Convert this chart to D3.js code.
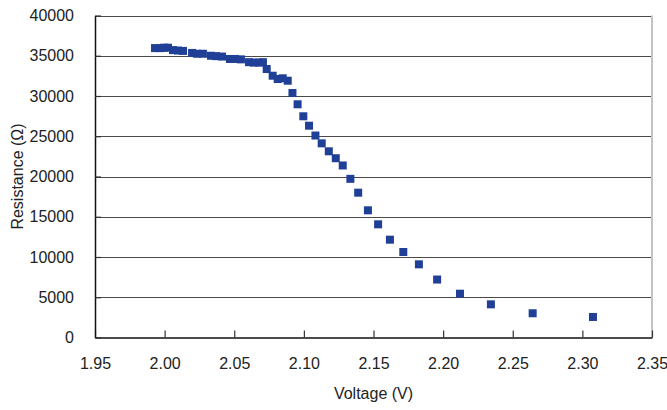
<!DOCTYPE html>
<html>
<head>
<meta charset="utf-8">
<script src="https://cdn.jsdelivr.net/npm/d3@7"></script>
<style>
  html, body { margin: 0; padding: 0; background: #fff; }
  svg { display: block; }
  text { font-family: "Liberation Sans", Arial, sans-serif; fill: #222; }
</style>
</head>
<body>
<svg id="chart" width="667" height="410"></svg>
<script>
// Data
const voltage = [
  1.9931, 1.9967, 1.9995, 2.0024,
  2.0060, 2.0096, 2.0132,
  2.0197, 2.0232, 2.0275,
  2.0333, 2.0369, 2.0412,
  2.0469, 2.0505, 2.0548,
  2.0606, 2.0642, 2.0678, 2.0706,
  2.0733, 2.0776, 2.0812, 2.0848, 2.0884,
  2.0918, 2.0955, 2.0996, 2.1037, 2.1083,
  2.1128, 2.1179, 2.1229, 2.1279, 2.1334,
  2.1390, 2.1460, 2.1533, 2.1618, 2.1714,
  2.1826, 2.1957, 2.2121, 2.2343, 2.2643, 2.3076
];
const resistance = [
  35950, 35950, 36000, 36000,
  35700, 35650, 35600,
  35350, 35250, 35250,
  35000, 34950, 34900,
  34600, 34600, 34550,
  34200, 34150, 34150, 34200,
  33350, 32520, 32110, 32200, 31900,
  30370, 28970, 27480, 26310, 25090,
  24120, 23130, 22270, 21370, 19710,
  17990, 15800, 14060, 12150, 10620,
  9090, 7200, 5440, 4120, 3010, 2550
];
const xTicks = [1.95, 2.00, 2.05, 2.10, 2.15, 2.20, 2.25, 2.30, 2.35];
const yTicks = [0, 5000, 10000, 15000, 20000, 25000, 30000, 35000, 40000];
const xTitle = "Voltage (V)";
const yTitle = "Resistance (\u03A9)";

const svg = d3.select("#chart");
const mLeft = 95, mRight = 652, mTop = 15.5, mBottom = 337.5;

const x = d3.scaleLinear().domain([1.95, 2.35]).range([mLeft, mRight]);
const y = d3.scaleLinear().domain([0, 40000]).range([mBottom, mTop]);

// horizontal gridlines
svg.append("g").selectAll("line")
  .data(yTicks.filter(d => d > 0))
  .join("line")
  .attr("x1", mLeft).attr("x2", mRight)
  .attr("y1", d => Math.round(y(d)) + 0.5).attr("y2", d => Math.round(y(d)) + 0.5)
  .attr("stroke", "#4a4a4a").attr("stroke-width", 1.2);

// right border
svg.append("line")
  .attr("x1", mRight).attr("x2", mRight)
  .attr("y1", y(40000)).attr("y2", mBottom)
  .attr("stroke", "#c4c4c4").attr("stroke-width", 2);

// x axis
const xAxis = d3.axisBottom(x).tickValues(xTicks).tickSizeInner(-7).tickSizeOuter(0)
  .tickFormat(d3.format(".2f")).tickPadding(20);
const gx = svg.append("g").attr("transform", `translate(0,${mBottom})`).call(xAxis);
gx.select(".domain").attr("stroke", "#111").attr("stroke-width", 1.5);
gx.selectAll(".tick line").attr("stroke", "#333").attr("stroke-width", 1.2);
gx.selectAll(".tick text").attr("font-size", 16).attr("fill", "#222")
  .attr("font-family", "Liberation Sans, Arial, sans-serif");

// y axis
const yAxis = d3.axisLeft(y).tickValues(yTicks).tickSizeInner(-6).tickSizeOuter(0)
  .tickFormat(d3.format("d")).tickPadding(21);
const gy = svg.append("g").attr("transform", `translate(${mLeft},0)`).call(yAxis);
gy.select(".domain").attr("stroke", "#111").attr("stroke-width", 1.5);
gy.selectAll(".tick line").attr("stroke", "#333").attr("stroke-width", 1.2);
gy.selectAll(".tick text").attr("font-size", 16).attr("fill", "#222")
  .attr("font-family", "Liberation Sans, Arial, sans-serif");

// titles
svg.append("text")
  .attr("x", (mLeft + mRight) / 2).attr("y", 399)
  .attr("text-anchor", "middle").attr("font-size", 16)
  .text(xTitle);
svg.append("text")
  .attr("transform", `translate(23,${(mTop + mBottom) / 2}) rotate(-90)`)
  .attr("text-anchor", "middle").attr("font-size", 16)
  .text(yTitle);

// markers
const pts = voltage.map((v, i) => ({v, r: resistance[i]}));
const s = 8;
svg.append("g").selectAll("rect")
  .data(pts)
  .join("rect")
  .attr("x", d => x(d.v) - s / 2)
  .attr("y", d => y(d.r) - s / 2)
  .attr("width", s).attr("height", s)
  .attr("fill", "#203f96");
</script>
</body>
</html>
